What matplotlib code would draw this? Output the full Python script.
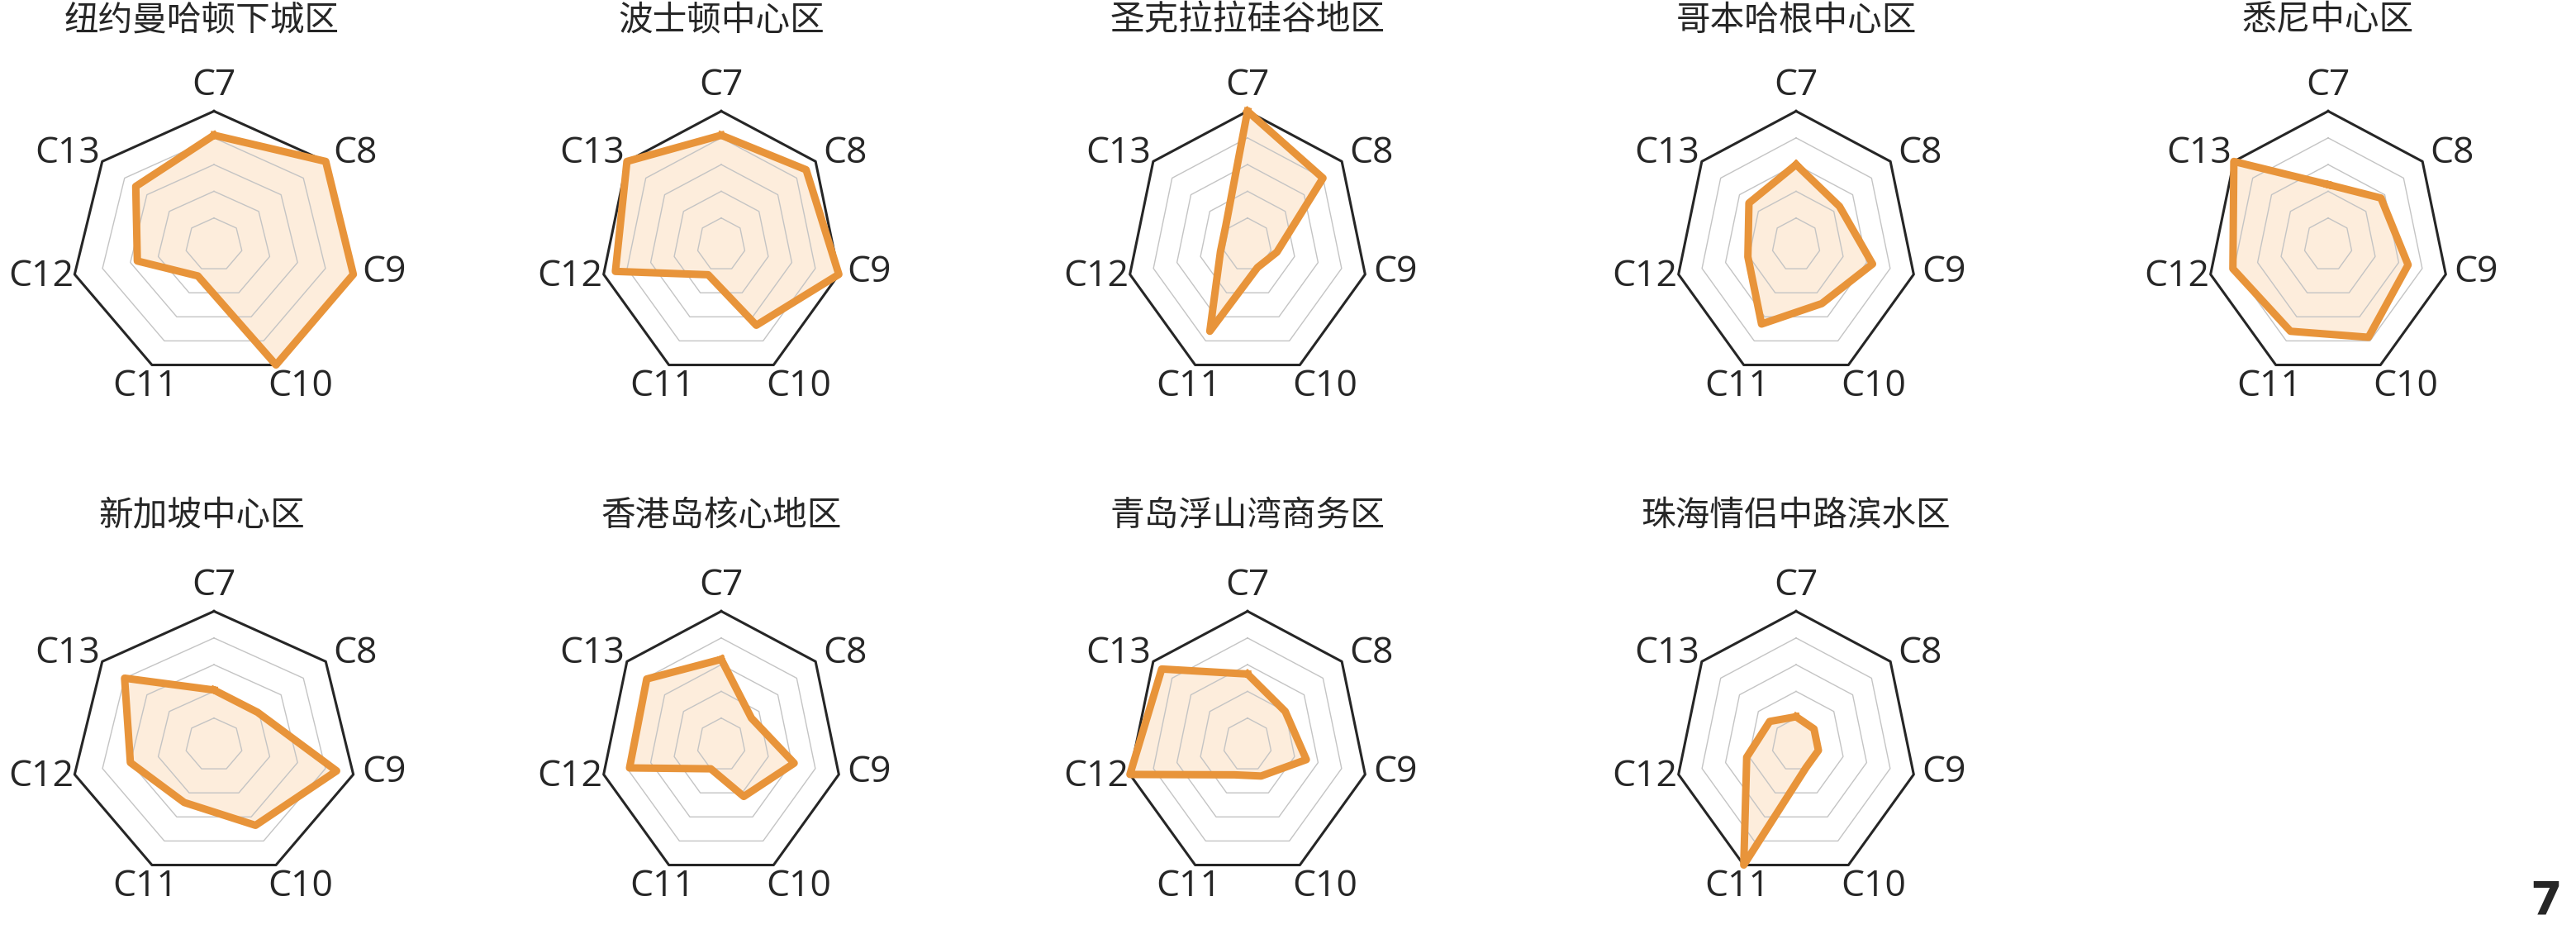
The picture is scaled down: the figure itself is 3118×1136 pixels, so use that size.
import numpy as np
import matplotlib
matplotlib.use('Agg')
import matplotlib.pyplot as plt

plt.rcParams['font.family'] = ['Noto Sans CJK SC', 'DejaVu Sans']

# axes of every radar
categories = ['C7', 'C8', 'C9', 'C10', 'C11', 'C12', 'C13']

regions = ['纽约曼哈顿下城区', '波士顿中心区', '圣克拉拉硅谷地区', '哥本哈根中心区', '悉尼中心区',
           '新加坡中心区', '香港岛核心地区', '青岛浮山湾商务区', '珠海情侣中路滨水区']

# values, 0..1 of the outer ring
newyork = [0.82, 1.00, 1.00, 1.00, 0.26, 0.55, 0.70]
boston = [0.82, 0.90, 1.00, 0.67, 0.25, 0.90, 1.00]
santaclara = [1.00, 0.80, 0.25, 0.19, 0.72, 0.23, 0.23]
copenhagen = [0.60, 0.46, 0.65, 0.49, 0.66, 0.41, 0.50]
sydney = [0.45, 0.56, 0.68, 0.77, 0.72, 0.81, 1.00]
singapore = [0.41, 0.39, 0.88, 0.67, 0.48, 0.60, 0.80]
hongkong = [0.64, 0.32, 0.62, 0.43, 0.20, 0.78, 0.79]
qingdao = [0.53, 0.40, 0.50, 0.26, 0.25, 1.00, 0.91]
zhuhai = [0.21, 0.19, 0.19, 0.19, 1.00, 0.42, 0.28]

all_values = [newyork, boston, santaclara, copenhagen, sydney,
              singapore, hongkong, qingdao, zhuhai]

rings = [0.2, 0.4, 0.6, 0.8]
page_number = '7'

# layout, in pixels of the 3118x1136 picture
W, H = 3118, 1136
col_x = [259, 873, 1510, 2174, 2818]
row_y = [296, 901]
rx_col = [173, 146, 146, 146, 146]
ry = 161.5
title_dy = [271, 277]
title_dx = [-15, 0, 0, 0, 0]
# label offsets from each outer vertex (x right, y up)
label_off = [(0, 31), (36, 10), (37, 2), (30, -26), (-8, -26), (-41, -3), (-42, 10)]

orange = '#E8943A'
fill_col = '#FDEDDC'
ink = '#262626'

fig = plt.figure(figsize=(W / 100, H / 100), dpi=100)

angles = np.arange(len(categories)) * 2 * np.pi / len(categories)
th = np.append(angles, angles[0])

for i, (name, vals) in enumerate(zip(regions, all_values)):
    row, col = divmod(i, 5)
    cx, cy, rx = col_x[col], row_y[row], rx_col[col]
    ax = fig.add_axes([(cx - rx) / W, 1 - (cy + ry) / H, 2 * rx / W, 2 * ry / H],
                      projection='polar')
    ax.set_aspect('auto')
    ax.set_theta_zero_location('N')
    ax.set_theta_direction(-1)
    ax.set_ylim(0, 1)
    ax.grid(False)
    ax.spines['polar'].set_visible(False)
    ax.set_xticks([])
    ax.set_yticks([])
    ax.patch.set_visible(False)

    v = np.append(vals, vals[0])
    ax.fill(th, v, color=fill_col, lw=0, clip_on=False, zorder=1)

    for r in rings:
        ax.plot(th, [r] * len(th), color='#c4c4c4', lw=1.0, zorder=2)
    ax.plot(th, [1.0] * len(th), color=ink, lw=2.2, clip_on=False, zorder=2)

    ax.plot(th, v, color=orange, lw=6.5, clip_on=False, zorder=3)

    for k, lab in enumerate(categories):
        ax.annotate(lab, xy=(angles[k], 1.0), xytext=label_off[k], textcoords='offset pixels',
                    ha='center', va='center', fontsize=32, color=ink,
                    family=['Open Sans', 'DejaVu Sans'], annotation_clip=False)

    fig.text((cx + title_dx[col]) / W, 1 - (cy - title_dy[row]) / H, name,
             ha='center', va='center', fontsize=30, color=ink)

fig.text(3082 / W, 1 - 1091 / H, page_number, ha='center', va='center',
         fontsize=40, fontweight='bold', color=ink, family=['DejaVu Sans'])

fig.savefig('out.png', dpi=100, facecolor='white')
